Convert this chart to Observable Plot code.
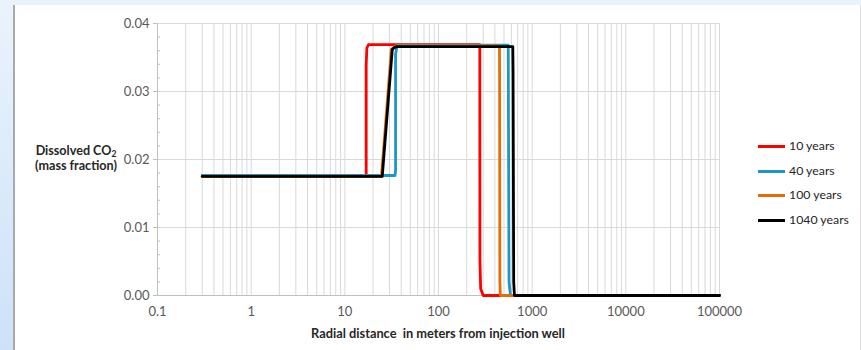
<!DOCTYPE html>
<html>
<head>
<meta charset="utf-8">
<script src="https://cdn.jsdelivr.net/npm/d3@7"></script>
<script src="https://cdn.jsdelivr.net/npm/@observablehq/plot@0.6"></script>
<style>
  html, body { margin: 0; padding: 0; background: #ffffff; }
  #wrap { position: relative; width: 861px; height: 350px; overflow: hidden; background: #ffffff; font-family: Lato, "Open Sans", sans-serif; }
  #topstrip { position: absolute; left: 0; top: 0; width: 861px; height: 5px; background: #eaf3fd; }
  #leftstrip { position: absolute; left: 0; top: 0; width: 13px; height: 350px; background: linear-gradient(#eaf3fd, #cde2f8); }
  #leftline { position: absolute; left: 13px; top: 5px; width: 2px; height: 345px; background: #a9a9a9; }
  #rightline { position: absolute; left: 860px; top: 5px; width: 1px; height: 345px; background: #dcdcdc; }
  #chart { position: absolute; left: 0; top: 0; }
  #ylabel { position: absolute; left: 16px; top: 143px; width: 120px; text-align: center; font-weight: bold; font-size: 12.6px; line-height: 15px; color: #262626; }
  #ylabel sub { font-size: 8.5px; vertical-align: -2px; line-height: 0; }
  #xlabel { position: absolute; left: 157px; top: 325px; width: 562px; text-align: center; font-weight: bold; font-size: 12.8px; color: #262626; white-space: pre; }
  #legend { position: absolute; left: 758px; top: 137px; }
  .item { position: relative; height: 24.5px; }
  .sw { position: absolute; left: 0; top: 8px; width: 27px; height: 3px; }
  .lt { position: absolute; left: 31px; top: 0; font-size: 12.3px; color: #262626; white-space: nowrap; line-height: 18px; }
</style>
</head>
<body>
<div id="wrap">
  <div id="topstrip"></div>
  <div id="leftstrip"></div>
  <div id="leftline"></div>
  <div id="rightline"></div>
  <div id="chart"></div>
  <div id="ylabel">Dissolved CO<sub>2</sub><br>(mass fraction)</div>
  <div id="xlabel">Radial distance  in meters from injection well</div>
  <div id="legend"></div>
</div>
<script>
// ---- Data ----
const seriesNames = ["10 years", "40 years", "100 years", "1040 years"];
const seriesColors = ["#ff0000", "#1f96c8", "#e46c0a", "#000000"];

const x10 = [0.3, 16.9, 16.9, 17.2, 17.9, 276, 277, 282, 300, 100000];
const y10 = [0.0175, 0.0175, 0.034, 0.0364, 0.0369, 0.0369, 0.005, 0.001, 0, 0];

const x40 = [0.3, 34.4, 34.8, 34.8, 36.2, 555, 556, 566, 587, 100000];
const y40 = [0.01765, 0.01765, 0.0185, 0.0355, 0.0368, 0.0368, 0.034, 0.002, 0, 0];

const x100 = [0.3, 24.6, 31.4, 33.4, 35.5, 448, 449, 452, 458, 100000];
const y100 = [0.0175, 0.0175, 0.0362, 0.0365, 0.0367, 0.0367, 0.033, 0.002, 0, 0];

const x1040 = [0.3, 25.1, 32.1, 34.0, 36.2, 621, 625, 635, 647, 100000];
const y1040 = [0.01752, 0.01752, 0.0362, 0.0365, 0.0366, 0.0366, 0.033, 0.002, 0, 0];

const xTicks = [0.1, 1, 10, 100, 1000, 10000, 100000];
const xTickLabels = ["0.1", "1", "10", "100", "1000", "10000", "100000"];
const yTicks = [0, 0.01, 0.02, 0.03, 0.04];
const yTickLabels = ["0.00", "0.01", "0.02", "0.03", "0.04"];

// ---- Build tables for the library ----
const seriesX = [x10, x40, x100, x1040];
const seriesY = [y10, y40, y100, y1040];
const rows = [];
seriesNames.forEach((name, s) => {
  seriesX[s].forEach((xv, i) => rows.push({series: name, x: xv, y: seriesY[s][i]}));
});

// gridlines at 1..9 multiples of each decade, minor y ticks every 0.002
const xGrid = [];
for (let d = 0; d < xTicks.length - 1; d++) for (let m = 1; m < 10; m++) xGrid.push(xTicks[d] * m);
xGrid.push(xTicks[xTicks.length - 1]);
const yMinor = d3.range(0, 0.0401, 0.002).filter(v => Math.abs(v * 100 - Math.round(v * 100)) > 1e-9);

const xLabelMap = new Map(xTicks.map((t, i) => [t, xTickLabels[i]]));
const yLabelMap = new Map(yTicks.map((t, i) => [t, yTickLabels[i]]));

const chart = Plot.plot({
  width: 861,
  height: 350,
  marginLeft: 157,
  marginRight: 142,
  marginTop: 23,
  marginBottom: 55,
  style: {background: "transparent", fontFamily: "Lato, 'Open Sans', sans-serif", fontSize: "13px"},
  x: {type: "log", domain: [0.1, 100000], axis: null},
  y: {domain: [0, 0.04], axis: null},
  color: {domain: seriesNames, range: seriesColors},
  marks: [
    Plot.gridX(xGrid, {stroke: "#d9d9d9", strokeOpacity: 1, strokeWidth: 1}),
    Plot.gridY(yTicks, {stroke: "#d9d9d9", strokeOpacity: 1, strokeWidth: 1}),
    Plot.tickY(yMinor, {y: d => d, stroke: "#bfbfbf", insetRight: 559}),
    Plot.ruleY([0], {stroke: "#bfbfbf"}),
    Plot.ruleX([0.1], {stroke: "#bfbfbf"}),
    Plot.axisY(yTicks, {tickFormat: d => yLabelMap.get(d), tickSize: 4, tickPadding: 4, stroke: "#bfbfbf", fill: "#595959", fontSize: 13, label: null}),
    Plot.axisX(xTicks, {tickFormat: d => xLabelMap.get(d), tickSize: 0, tickPadding: 11, fill: "#595959", fontSize: 13, label: null}),
    Plot.line(rows, {x: "x", y: "y", z: "series", stroke: "series", strokeWidth: 2.8, strokeLinejoin: "round", strokeLinecap: "round"})
  ]
});
document.getElementById("chart").appendChild(chart);

// legend
const legend = document.getElementById("legend");
seriesNames.forEach((name, i) => {
  const item = document.createElement("div");
  item.className = "item";
  const sw = document.createElement("div");
  sw.className = "sw";
  sw.style.background = seriesColors[i];
  const lt = document.createElement("div");
  lt.className = "lt";
  lt.textContent = name;
  item.appendChild(sw);
  item.appendChild(lt);
  legend.appendChild(item);
});
</script>
</body>
</html>
